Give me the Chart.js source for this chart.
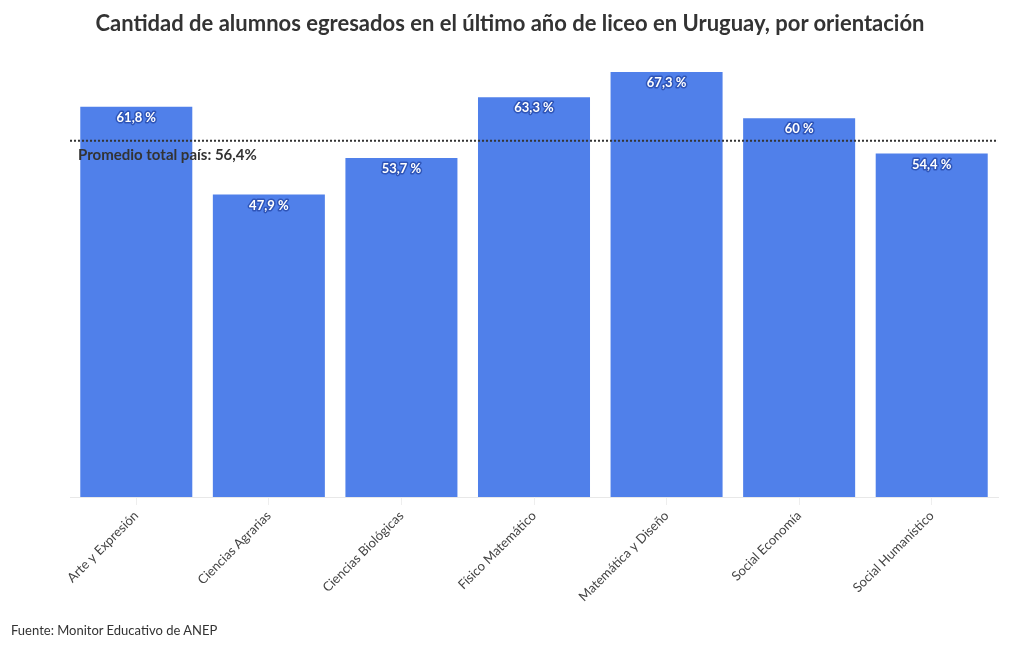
<!DOCTYPE html>
<html lang="es">
<head>
  <meta charset="UTF-8">
  <title>Egresados liceo Uruguay</title>
  <script src="https://cdn.jsdelivr.net/npm/chart.js"></script>
  <style>
    html, body { margin: 0; padding: 0; background: #fff; }
    #wrap { position: relative; width: 1020px; height: 650px; font-family: "Lato", "Open Sans", sans-serif; }
    h1 { position: absolute; left: 0; width: 1020px; top: 9px; margin: 0; text-align: center;
         font-size: 22px; font-weight: bold; color: #333; }
    #source { position: absolute; left: 11px; top: 622px; font-size: 13px; color: #333; }
    canvas { position: absolute; left: 0; top: 0; }
  </style>
</head>
<body>
  <div id="wrap">
    <canvas id="chart" width="1020" height="650"></canvas>
    <h1>Cantidad de alumnos egresados en el último año de liceo en Uruguay, por orientación</h1>
    <div id="source">Fuente: Monitor Educativo de ANEP</div>
  </div>

  <script>
    const categories = ['Arte y Expresión', 'Ciencias Agrarias', 'Ciencias Biológicas', 'Físico Matemático',
                        'Matemática y Diseño', 'Social Economía', 'Social Humanístico'];
    const values = [61.8, 47.9, 53.7, 63.3, 67.3, 60, 54.4];
    const averageValue = 56.4;
    const averageLabel = 'Promedio total país: 56,4%';

    const fmt = v => String(v).replace('.', ',') + ' %';

    // value labels on top of bars + average line
    const overlay = {
      id: 'overlay',
      afterDatasetsDraw(chart) {
        const ctx = chart.ctx;
        const meta = chart.getDatasetMeta(0);
        ctx.save();
        ctx.font = 'bold 13px "Lato", sans-serif';
        ctx.textAlign = 'center';
        ctx.textBaseline = 'middle';
        ctx.lineJoin = 'round';
        meta.data.forEach((bar, i) => {
          const txt = fmt(values[i]);
          ctx.lineWidth = 3;
          ctx.strokeStyle = '#2f55b8';
          ctx.strokeText(txt, bar.x, bar.y + 11);
          ctx.fillStyle = '#fff';
          ctx.fillText(txt, bar.x, bar.y + 11);
        });

        const area = chart.chartArea;
        const y = chart.scales.y.getPixelForValue(averageValue);
        ctx.beginPath();
        ctx.setLineDash([2, 2]);
        ctx.lineWidth = 2;
        ctx.strokeStyle = '#333';
        ctx.moveTo(area.left, y);
        ctx.lineTo(area.right, y);
        ctx.stroke();
        ctx.setLineDash([]);

        ctx.font = 'bold 15px "Lato", sans-serif';
        ctx.textAlign = 'left';
        ctx.fillStyle = '#333';
        ctx.fillText(averageLabel, area.left + 8, y + 14);
        ctx.restore();
      }
    };

    new Chart(document.getElementById('chart'), {
      type: 'bar',
      data: {
        labels: categories,
        datasets: [{
          data: values,
          backgroundColor: '#5080ea',
          categoryPercentage: 0.845,
          barPercentage: 1
        }]
      },
      options: {
        responsive: false,
        animation: false,
        layout: { padding: { left: 70, right: 22, top: 55, bottom: 0 } },
        plugins: { legend: { display: false }, tooltip: { enabled: false } },
        scales: {
          y: { display: false, min: 0, max: 70 },
          x: {
            afterFit(scale) { scale.height = 153; },
            border: { color: '#e8e8e8' },
            grid: { offset: false, drawOnChartArea: false, color: '#eeeeee', tickLength: 8 },
            ticks: {
              minRotation: 45, maxRotation: 45,
              color: '#444',
              font: { family: '"Lato", sans-serif', size: 13 }
            }
          }
        }
      },
      plugins: [overlay]
    });
  </script>
</body>
</html>
